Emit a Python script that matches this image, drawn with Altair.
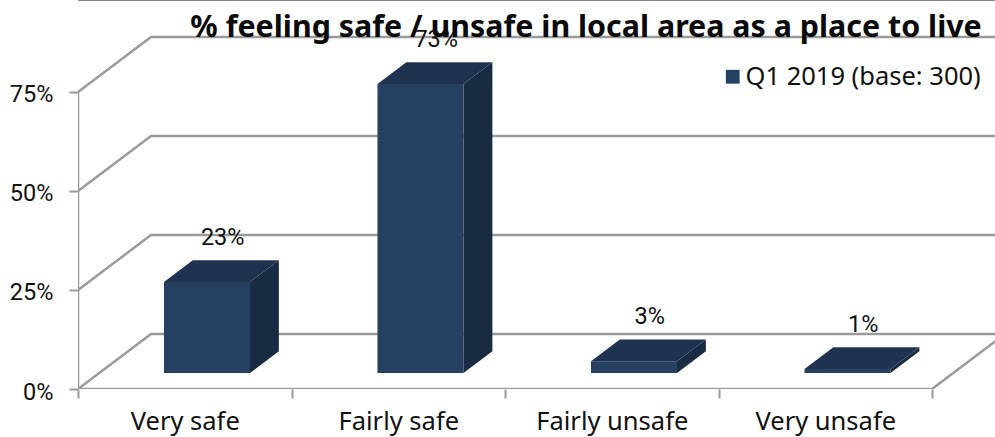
import altair as alt
import pandas as pd

TITLE = "% feeling safe / unsafe in local area as a place to live"
SERIES = "Q1 2019 (base: 300)"
categories = ["Very safe", "Fairly safe", "Fairly unsafe", "Very unsafe"]
values = [23, 73, 3, 1]
wall_levels = [0, 25, 50, 75]

FONT = "Noto Sans"
NUM_FONT = "Roboto"
INK = "#111111"
GREY = "#9a9a9a"
FRONT = "#254061"
TOP = "#1f3350"
SIDE = "#192b42"

# Oblique projection: a point at depth z moves right and up by these amounts.
DEPTH_X = 0.342
DEPTH_Y = 13.89
BAR_Z0, BAR_Z1 = 0.29, 0.685
BAR_WIDTH = 0.403
BAR_SHIFT = 0.005
LABEL_Z = 0.52

X_DOMAIN = [0, 4.295]
Y_DOMAIN = [0, 98.23]
n = len(categories)


def xpos(pos, z=0.0):
    return pos + z * DEPTH_X


def ypos(value, z=0.0):
    return value + z * DEPTH_Y


x_scale = alt.Scale(domain=X_DOMAIN, nice=False, zero=False)
y_scale = alt.Scale(domain=Y_DOMAIN, nice=False, zero=False)


def X(field="x", **kw):
    return alt.X(f"{field}:Q", scale=x_scale, title=None, **kw)


def Y(field="y", **kw):
    return alt.Y(f"{field}:Q", scale=y_scale, title=None, **kw)


# Walls and floor
wall_rows = []
for level in wall_levels:
    path = [(0, level, 0), (0, level, 1), (n, level, 1)]
    if level == 0:
        path += [(n, 0, 0), (0, 0, 0)]
    for order, (p, v, z) in enumerate(path):
        wall_rows.append({"level": level, "order": order, "x": xpos(p, z), "y": ypos(v, z)})
wall_rows += [
    {"level": -1, "order": 0, "x": 0, "y": 0},
    {"level": -1, "order": 1, "x": 0, "y": wall_levels[-1]},
]
walls = (
    alt.Chart(pd.DataFrame(wall_rows))
    .mark_line(color=GREY, strokeWidth=2.5, clip=True)
    .encode(
        x=X(axis=alt.Axis(values=list(range(n + 1)), labels=False, ticks=True, tickSize=9,
                          tickColor=GREY, tickWidth=2, domain=False, grid=False)),
        y=Y(axis=alt.Axis(values=wall_levels, labelExpr="datum.value + '%'", tickSize=9,
                          tickColor=GREY, tickWidth=2, domain=False, grid=False,
                          labelFont=NUM_FONT, labelFontSize=23.5, labelColor=INK,
                          labelPadding=16, labelOffset=3)),
        detail="level:N",
        order="order:Q",
    )
)

# Category names sit midway between the tick marks
names = "[" + ",".join(f"'{c}'" for c in categories) + "]"
category_axis = (
    alt.Chart(pd.DataFrame({"x": [i + 0.5 for i in range(n)]}))
    .mark_point(opacity=0)
    .encode(
        x=X(axis=alt.Axis(values=[i + 0.5 for i in range(n)], orient="bottom",
                          labelExpr=f"{names}[floor(datum.value)]", ticks=False, domain=False, grid=False,
                          labelFont=FONT, labelFontSize=25.5, labelColor=INK, labelPadding=20)),
    )
)

# The three visible faces of each bar
front_rows, side_rows, top_rows, label_rows = [], [], [], []
for i, (cat, v) in enumerate(zip(categories, values)):
    left = i + 0.5 + BAR_SHIFT - BAR_WIDTH / 2
    right = i + 0.5 + BAR_SHIFT + BAR_WIDTH / 2
    front_rows.append({
        "series": SERIES, "x": xpos(left, BAR_Z0), "x2": xpos(right, BAR_Z0),
        "y": ypos(v, BAR_Z0), "y2": ypos(0, BAR_Z0),
    })
    for z in (BAR_Z0, BAR_Z1):
        side_rows.append({"cat": cat, "x": xpos(right, z), "y": ypos(v, z), "y2": ypos(0, z)})
        top_rows.append({"cat": cat, "x": xpos(left, z), "x2": xpos(right, z), "y": ypos(v, z)})
    label_rows.append({"x": xpos(i + 0.5, LABEL_Z), "y": ypos(v, BAR_Z1), "label": f"{v}%"})

side = (
    alt.Chart(pd.DataFrame(side_rows))
    .mark_area(color=SIDE, orient="vertical")
    .encode(x=X(), y=Y(), y2="y2:Q", detail="cat:N")
)
top = (
    alt.Chart(pd.DataFrame(top_rows))
    .mark_area(color=TOP, orient="horizontal")
    .encode(x=X(), x2="x2:Q", y=Y(), detail="cat:N")
)
front = (
    alt.Chart(pd.DataFrame(front_rows))
    .mark_rect()
    .encode(
        x=X(), x2="x2:Q", y=Y(), y2="y2:Q",
        color=alt.Color(
            "series:N",
            scale=alt.Scale(domain=[SERIES], range=[FRONT]),
            legend=alt.Legend(
                title=None, orient="none", legendX=642, legendY=64, symbolType="square",
                symbolSize=190, symbolStrokeWidth=0, labelFont=FONT, labelFontSize=25.5,
                labelColor=INK, labelLimit=400, labelOffset=0,
            ),
        ),
    )
)
labels = (
    alt.Chart(pd.DataFrame(label_rows))
    .mark_text(font=NUM_FONT, fontSize=23.5, color=INK, dy=-22, baseline="middle")
    .encode(x=X(), y=Y(), text="label:N")
)

chart = (
    alt.layer(walls, category_axis, side, top, front, labels)
    .resolve_axis(x="independent")
    .properties(
        width=917,
        height=389,
        padding={"left": 78, "top": 0, "right": 0, "bottom": 48},
        autosize=alt.AutoSizeParams(type="none"),
        title=alt.TitleParams(
            TITLE, anchor="start", dx=181, offset=-60, font=FONT, fontSize=30.4,
            fontWeight="bold", color="#0a0a0a",
        ),
    )
    .configure_view(stroke=None)
)

chart.save("out.html", embed_options={"renderer": "svg", "actions": False})
